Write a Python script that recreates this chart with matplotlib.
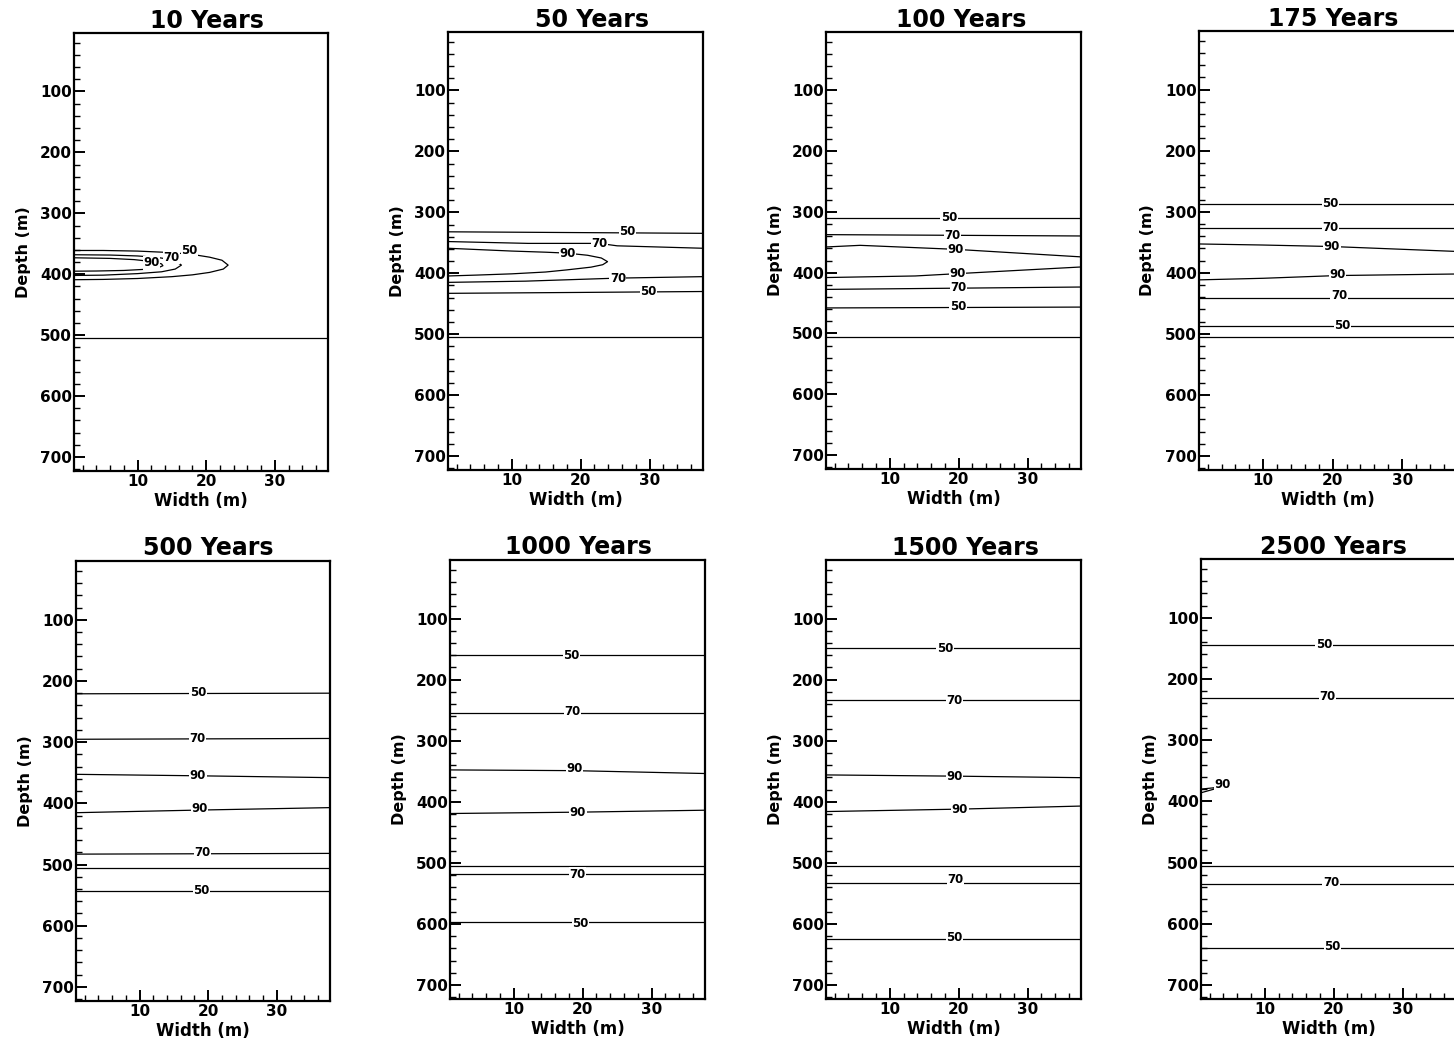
import matplotlib
matplotlib.use("Agg")
import matplotlib.pyplot as plt
from matplotlib.ticker import MultipleLocator

plt.rcParams['font.family'] = ['DejaVu Sans']
plt.rcParams['font.weight'] = 'bold'

titles = ["10 Years", "50 Years", "100 Years", "175 Years",
          "500 Years", "1000 Years", "1500 Years", "2500 Years"]

interface_depth = 505
w_min, w_max = 0.75, 37.75

# contour lines: (level, widths, depths)
c10 = [
    (50, [0.75, 5, 10, 15, 18, 20.5, 22.3, 23.2, 22.5, 20.5, 18, 15, 10, 5, 0.75],
         [361, 361, 362, 364.5, 367.5, 372, 377, 385, 391.5, 397, 401, 404, 407, 408.5, 409]),
    (70, [0.75, 6, 10, 13, 15.3, 16.4, 15.5, 13.5, 10, 5, 0.75],
         [368, 368.5, 370, 372.5, 377, 385, 391.5, 396, 399, 401.5, 402]),
    (90, [0.75, 6, 9.5, 12, 13.5, 13.7, 13, 11, 8, 4, 0.75],
         [373, 374, 376, 379, 383, 386, 389.5, 392, 393.8, 394.7, 395]),
]
lab10 = [(50, 17.6, 361), (70, 14.9, 372), (90, 12.0, 381)]

c50 = [
    (50, [0.75, 37.75], [332, 334.5]),
    (70, [0.75, 12.4, 22.7, 25.3, 37.75], [348, 351, 351, 355, 359]),
    (90, [0.75, 10, 15, 18, 21, 23, 23.9, 23.2, 21.5, 18, 14.9, 10, 5, 0.75],
         [359, 363.6, 365.5, 367, 370.5, 375, 381, 386, 390, 394.5, 398, 401, 403, 404.5]),
    (70, [0.75, 12, 20, 25.4, 37.75], [415, 413, 410, 408, 405.6]),
    (50, [0.75, 20, 37.75], [433, 431.5, 430]),
]
lab50 = [(50, 26.8, 331), (70, 22.7, 351), (90, 18.1, 367),
         (70, 25.4, 408), (50, 29.8, 430.5)]

c100 = [
    (50, [0.75, 37.75], [310, 310]),
    (70, [0.75, 37.75], [337.4, 339.6]),
    (90, [0.75, 5.7, 19.6, 37.75], [357.7, 355, 361.6, 374]),
    (90, [0.75, 13.7, 19.8, 37.75], [408, 405.4, 401.6, 390.6]),
    (70, [0.75, 37.75], [427.5, 423.6]),
    (50, [0.75, 37.75], [458, 456.6]),
]
lab100 = [(50, 18.6, 310), (70, 19.1, 338.5), (90, 19.6, 362),
          (90, 19.8, 401.6), (70, 20.0, 425), (50, 19.9, 456)]

c175 = [
    (50, [0.75, 37.75], [287.5, 287.5]),
    (70, [0.75, 37.75], [326, 326]),
    (90, [0.75, 9.8, 19.9, 37.75], [352.8, 354.5, 357, 365]),
    (90, [0.75, 10, 20.7, 37.75], [411.6, 409, 404.5, 402]),
    (70, [0.75, 37.75], [440.5, 440.5]),
    (50, [0.75, 37.75], [487.8, 487.8]),
]
lab175 = [(50, 19.7, 286), (70, 19.7, 326), (90, 19.9, 357),
          (90, 20.7, 403), (70, 20.9, 437), (50, 21.4, 486)]

c500 = [
    (50, [0.75, 37.75], [221, 220]),
    (70, [0.75, 37.75], [295.3, 294]),
    (90, [0.75, 18.5, 37.75], [352.6, 355, 358]),
    (90, [0.75, 18.7, 37.75], [415.3, 411, 407]),
    (70, [0.75, 37.75], [483, 481.8]),
    (50, [0.75, 37.75], [543.5, 543.5]),
]
lab500 = [(50, 18.5, 219.5), (70, 18.5, 294), (90, 18.5, 355),
          (90, 18.7, 409), (70, 19.2, 480.5), (50, 19.0, 542.5)]

c1000 = [
    (50, [0.75, 37.75], [160, 160]),
    (70, [0.75, 37.75], [253.8, 253.8]),
    (90, [0.75, 18.8, 37.75], [347.8, 349, 353.7]),
    (90, [0.75, 19.3, 37.75], [419.2, 417, 413.8]),
    (70, [0.75, 37.75], [517.5, 517.5]),
    (50, [0.75, 37.75], [597.7, 597.7]),
]
lab1000 = [(50, 18.4, 160.5), (70, 18.5, 252.5), (90, 18.8, 345),
           (90, 19.3, 417.6), (70, 19.3, 518.6), (50, 19.7, 599)]

c1500 = [
    (50, [0.75, 37.75], [148.6, 148.6]),
    (70, [0.75, 37.75], [233.7, 233.7]),
    (90, [0.75, 19.4, 37.75], [356, 358, 360.5]),
    (90, [0.75, 20.2, 37.75], [416, 412, 407]),
    (70, [0.75, 37.75], [532.5, 532.5]),
    (50, [0.75, 37.75], [624.7, 624.7]),
]
lab1500 = [(50, 18.0, 148.6), (70, 19.4, 234.5), (90, 19.4, 358.5),
           (90, 20.2, 413), (70, 19.5, 527), (50, 19.4, 622.5)]

c2500 = [
    (50, [0.75, 37.75], [144.3, 144.3]),
    (70, [0.75, 37.75], [231.8, 231.8]),
    (90, [0.75, 2.5, 4.7, 2.5, 0.75], [380, 378, 374, 380.5, 386]),
    (70, [0.75, 37.75], [534.5, 534.5]),
    (50, [0.75, 37.75], [639, 639]),
]
lab2500 = [(50, 18.6, 144), (70, 19.1, 229), (90, 3.9, 372),
           (70, 19.6, 532.5), (50, 19.8, 636.5)]

contours = [c10, c50, c100, c175, c500, c1000, c1500, c2500]
labels = [lab10, lab50, lab100, lab175, lab500, lab1000, lab1500, lab2500]

# axes boxes in pixels: left, top, right, bottom
boxes = [(74, 33, 328, 471), (448, 32, 703, 470), (826, 32, 1081, 469),
         (1199, 31, 1456, 470), (76, 561, 330, 1001), (450, 560, 705, 999),
         (826, 560, 1081, 999), (1201, 559, 1456, 999)]
title_x = [0.524, 0.563, 0.531, 0.524, 0.52, 0.504, 0.545, 0.52]
title_pad = [2, 0, 2, 2, 4, 4, 3, 3]

W, H = 1454, 1040
fig = plt.figure(figsize=(W / 100, H / 100), dpi=100)
fig.patch.set_facecolor('white')

for i in range(8):
    l, t, r, b = boxes[i]
    ax = fig.add_axes([l / W, 1 - b / H, (r - l) / W, (b - t) / H])
    ax.set_xlim(w_min, w_max)
    ax.set_ylim(723, 4)

    for level, ws, ds in contours[i]:
        ax.plot(ws, ds, color='black', lw=0.9)
    ax.plot([w_min, w_max], [interface_depth, interface_depth], color='black', lw=0.9)

    for level, x, y in labels[i]:
        ax.text(x, y, str(level), fontsize=8.5, fontweight='bold', ha='center', va='center',
                bbox=dict(facecolor='white', edgecolor='none', pad=0.3))

    ax.xaxis.set_major_locator(MultipleLocator(10))
    ax.xaxis.set_minor_locator(MultipleLocator(2))
    ax.yaxis.set_major_locator(MultipleLocator(100))
    ax.yaxis.set_minor_locator(MultipleLocator(20))
    ax.set_yticks([100, 200, 300, 400, 500, 600, 700])
    ax.tick_params(which='both', direction='in', top=False, right=False)
    ax.tick_params(which='major', length=8, width=1.4, labelsize=11)
    ax.tick_params(which='minor', length=4, width=1)
    ax.tick_params(axis='y', pad=1.5)
    ax.tick_params(axis='x', pad=2)
    for lab in ax.get_xticklabels() + ax.get_yticklabels():
        lab.set_fontweight('bold')
    for sp in ax.spines.values():
        sp.set_linewidth(1.6)

    ax.set_xlabel('Width (m)', fontsize=12, fontweight='bold')
    ax.set_ylabel('Depth (m)', fontsize=11.5, fontweight='bold')
    ax.xaxis.set_label_coords(0.5, -0.047)
    ax.yaxis.set_label_coords(-0.17, 0.5)
    ax.set_title(titles[i], fontsize=17, fontweight='bold', x=title_x[i], pad=title_pad[i])

fig.savefig('out.png', dpi=100, facecolor='white')
